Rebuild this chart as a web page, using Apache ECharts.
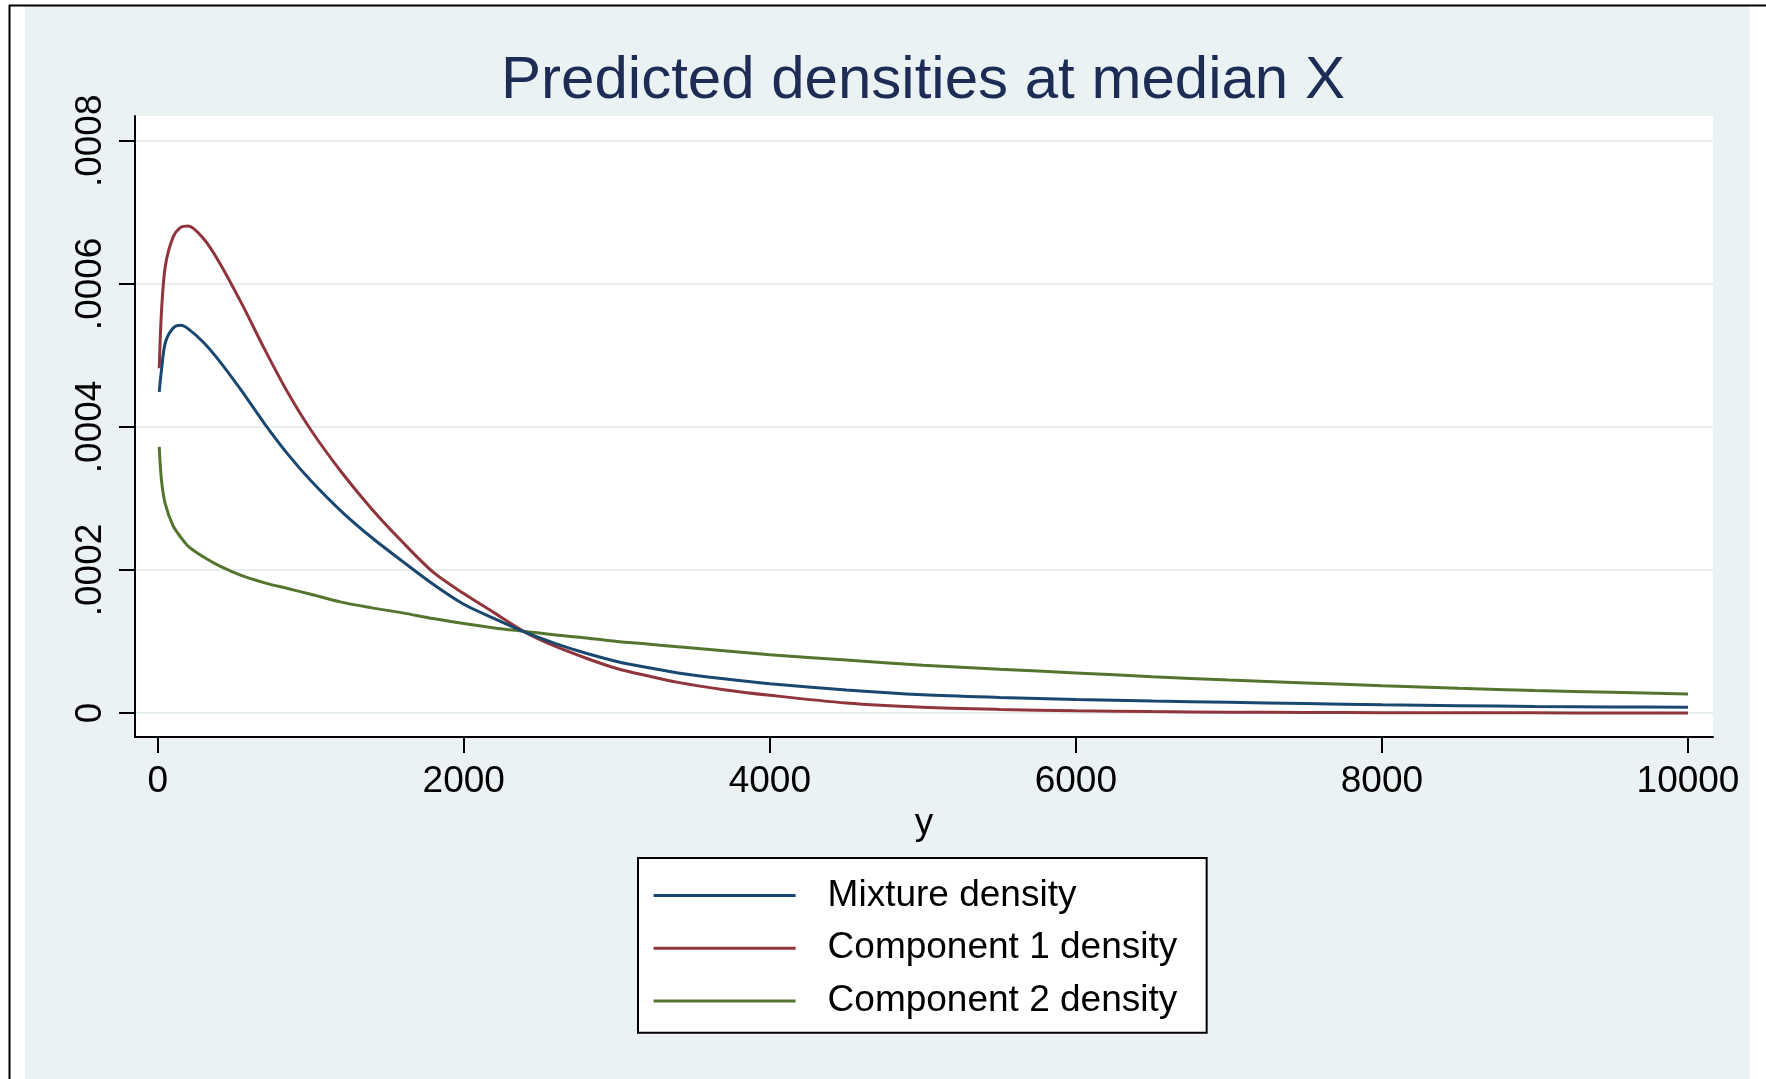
<!DOCTYPE html>
<html>
<head>
<meta charset="utf-8">
<script src="https://cdn.jsdelivr.net/npm/echarts@6/dist/echarts.min.js"></script>
<style>
html,body{margin:0;padding:0;background:#fff;}
#c{width:1766px;height:1079px;}
</style>
</head>
<body>
<div id="c"></div>
<script>
const titleText = 'Predicted densities at median X';
const xAxisName = 'y';
const seriesNames = ['Mixture density', 'Component 1 density', 'Component 2 density'];
const xTickValues = [0, 2000, 4000, 6000, 8000, 10000];
const xTickLabels = ['0', '2000', '4000', '6000', '8000', '10000'];
const yTickValues = [0, 0.0002, 0.0004, 0.0006, 0.0008];
const yTickLabels = ['0', '.0002', '.0004', '.0006', '.0008'];

const xValues = [10, 25, 50, 100, 150, 200, 300, 400, 550, 700, 850, 1000, 1200, 1400, 1600, 1800, 2000, 2200, 2400, 2600, 2800, 3000, 3200, 3400, 3700, 4000, 4500, 5000, 5500, 6000, 6500, 7000, 7500, 8000, 8500, 9000, 9500, 10000];

const mixture = [0.000449, 0.000480, 0.000518, 0.000538, 0.000542, 0.000537, 0.000518, 0.000493, 0.000450, 0.000404, 0.000362, 0.000325, 0.000282, 0.000245, 0.000212, 0.000180, 0.000152, 0.000132, 0.000113, 0.0000971, 0.0000835, 0.0000721, 0.0000635, 0.0000560, 0.0000478, 0.0000410, 0.0000322, 0.0000255, 0.0000218, 0.0000190, 0.0000168, 0.0000150, 0.0000133, 0.0000114, 0.0000103, 0.0000092, 0.0000085, 0.0000079];

const component1 = [0.000482, 0.000562, 0.000625, 0.000665, 0.000679, 0.000681, 0.000663, 0.000631, 0.000572, 0.000508, 0.000448, 0.000396, 0.000337, 0.000285, 0.000239, 0.000197, 0.000167, 0.000140, 0.000113, 0.0000930, 0.0000766, 0.0000622, 0.0000520, 0.0000428, 0.0000326, 0.0000248, 0.0000140, 0.0000080, 0.0000050, 0.0000032, 0.0000020, 0.0000012, 0.0000008, 0.0000005, 0.0000003, 0.0000002, 0.0000001, 0.0000001];

const component2 = [0.000372, 0.000325, 0.000292, 0.000262, 0.000246, 0.000233, 0.000218, 0.000206, 0.000192, 0.000182, 0.000174, 0.000166, 0.000155, 0.000147, 0.000140, 0.000132, 0.000125, 0.000119, 0.000114, 0.000109, 0.000105, 0.000100, 0.0000965, 0.0000925, 0.0000870, 0.0000815, 0.0000740, 0.0000668, 0.0000612, 0.0000561, 0.0000507, 0.0000460, 0.0000421, 0.0000380, 0.0000345, 0.0000315, 0.0000290, 0.0000266];

const colors = ['#1a476f', '#90353b', '#55752f'];
const seriesData = [mixture, component1, component2];

const FONT = '"Liberation Sans", Arial, Helvetica, sans-serif';

function labelFor(values, labels) {
  return function (v) {
    for (let i = 0; i < values.length; i++) {
      if (Math.abs(v - values[i]) < 1e-9 * Math.max(1, Math.abs(values[i]))) return labels[i];
    }
    return '';
  };
}

const chart = echarts.init(document.getElementById('c'), null, {renderer: 'canvas'});

const option = {
  backgroundColor: '#ffffff',
  animation: false,
  title: {
    text: titleText,
    left: 918,
    textAlign: 'center',
    top: 46,
    textStyle: {fontFamily: FONT, fontSize: 60, fontWeight: 'normal', color: '#1c2c55'}
  },
  graphic: [
    {type: 'rect', z: -10, shape: {x: 25, y: 6, width: 1725, height: 1073}, style: {fill: '#eaf2f3'}, silent: true},
    {type: 'line', z: -9, shape: {x1: 9, y1: 5.5, x2: 1766, y2: 5.5}, style: {stroke: '#000', lineWidth: 2}, silent: true},
    {type: 'line', z: -9, shape: {x1: 9.5, y1: 5, x2: 9.5, y2: 1079}, style: {stroke: '#000', lineWidth: 2}, silent: true}
  ],
  grid: {
    left: 135, top: 116, right: 53, bottom: 342,
    show: true, backgroundColor: '#ffffff', borderWidth: 0,
    containLabel: false
  },
  legend: {
    left: 638, top: 858,
    orient: 'vertical',
    icon: 'rect',
    itemWidth: 142, itemHeight: 3,
    itemGap: 6.8,
    padding: [14.4, 29.4, 8.8, 15.6],
    backgroundColor: '#ffffff',
    borderColor: '#000000', borderWidth: 2,
    textStyle: {fontFamily: FONT, fontSize: 37, color: '#000', lineHeight: 40, padding: [6, 0, 0, 27]},
    data: seriesNames
  },
  xAxis: {
    type: 'value',
    min: -148.3, max: 10163.4,
    name: xAxisName,
    nameLocation: 'middle',
    nameGap: 55,
    nameTextStyle: {fontFamily: FONT, fontSize: 37, color: '#000'},
    axisLine: {show: true, onZero: false, lineStyle: {color: '#000', width: 2}},
    axisTick: {show: true, length: 16, customValues: xTickValues, lineStyle: {color: '#000', width: 2}},
    axisLabel: {show: true, margin: 26, customValues: xTickValues, fontFamily: FONT, fontSize: 37, color: '#000',
      formatter: labelFor(xTickValues, xTickLabels)},
    splitLine: {show: false}
  },
  yAxis: {
    type: 'value',
    min: -0.00003355, max: 0.00083467,
    axisLine: {show: true, onZero: false, lineStyle: {color: '#000', width: 2}},
    axisTick: {show: true, length: 16, customValues: yTickValues, lineStyle: {color: '#000', width: 2}},
    axisLabel: {
      show: true, margin: 26, rotate: 90, customValues: yTickValues,
      fontFamily: FONT, fontSize: 37, color: '#000',
      formatter: labelFor(yTickValues, yTickLabels)
    },
    splitLine: {show: true, lineStyle: {color: '#e6eef0', width: 2}}
  },
  series: seriesNames.map(function (name, i) {
    return {
      name: name,
      type: 'line',
      showSymbol: false,
      symbol: 'none',
      smooth: 0.3,
      color: colors[i],
      lineStyle: {color: colors[i], width: 3},
      itemStyle: {color: colors[i]},
      data: xValues.map(function (x, j) { return [x, seriesData[i][j]]; }),
      z: 3 - i
    };
  })
};
chart.setOption(option);
</script>
</body>
</html>
